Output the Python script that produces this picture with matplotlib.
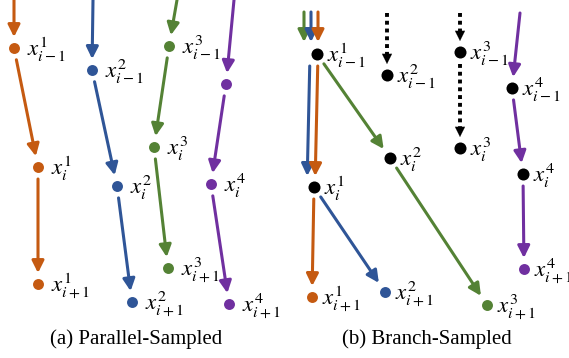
import numpy as np
import matplotlib.pyplot as plt

plt.rcParams['mathtext.fontset'] = 'stix'

ORANGE = '#C55A11'
BLUE = '#2F5597'
GREEN = '#548235'
PURPLE = '#7030A0'
BLACK = '#000000'

# ---- (a) Parallel-Sampled: four independent chains, three steps each
par_colors = [ORANGE, BLUE, GREEN, PURPLE]
par_x = [[14, 38, 38], [92, 117, 132], [169, 154, 168], [226, 211, 229]]
par_y = [[48, 167, 284], [70, 186, 302], [46, 147, 268], [84, 184, 304]]
par_top = [(14, 0), (93, 0), (177, 0), (234, 0)]
par_labels = [[r'$x^{1}_{i-1}$', r'$x^{1}_{i}$', r'$x^{1}_{i+1}$'],
              [r'$x^{2}_{i-1}$', r'$x^{2}_{i}$', r'$x^{2}_{i+1}$'],
              [r'$x^{3}_{i-1}$', r'$x^{3}_{i}$', r'$x^{3}_{i+1}$'],
              ['', r'$x^{4}_{i}$', r'$x^{4}_{i+1}$']]

# ---- (b) Branch-Sampled
br_names = ['a1', 'a2', 'a3', 'a4', 'b1', 'b2', 'b3', 'b4', 'c1', 'c2', 'c3', 'c4']
br_x = [317, 387, 460, 512, 314, 390, 460, 523, 312, 385, 487, 524]
br_y = [54, 75, 52, 88, 187, 158, 148, 174, 297, 292, 305, 269]
br_colors = [BLACK] * 8 + [ORANGE, BLUE, GREEN, PURPLE]
br_labels = [r'$x^{1}_{i-1}$', r'$x^{2}_{i-1}$', r'$x^{3}_{i-1}$', r'$x^{4}_{i-1}$',
             r'$x^{1}_{i}$', r'$x^{2}_{i}$', r'$x^{3}_{i}$', r'$x^{4}_{i}$',
             r'$x^{1}_{i+1}$', r'$x^{2}_{i+1}$', r'$x^{3}_{i+1}$', r'$x^{4}_{i+1}$']
# edges between nodes: (from, to, colour, x offset, dotted)
br_edges = [('a1', 'b1', BLUE, -7, False), ('a1', 'b1', ORANGE, 1, False),
            ('a1', 'b2', GREEN, 0, False), ('b2', 'c3', GREEN, 0, False),
            ('b1', 'c1', ORANGE, 0, False), ('b1', 'c2', BLUE, 0, False),
            ('a3', 'b3', BLACK, 0, True),
            ('a4', 'b4', PURPLE, 0, False), ('b4', 'c4', PURPLE, 0, False)]
# incoming arrows from the top: (start x, start y, node, colour, x offset, dotted)
br_in = [(304, 12, 'a1', GREEN, -13, False), (311, 12, 'a1', BLUE, -6, False),
         (318, 12, 'a1', ORANGE, 1, False), (387, 13, 'a2', BLACK, 0, True),
         (460, 13, 'a3', BLACK, 0, True), (520, 13, 'a4', PURPLE, 0, False)]

captions = ['(a) Parallel-Sampled', '(b) Branch-Sampled']
caption_x = [136, 427]

GAP0 = 12
GAP1 = 11
LW = 2.2


def arrow(ax, p0, p1, color, dotted=False):
    p0 = np.array(p0, float)
    p1 = np.array(p1, float)
    if dotted:
        d = (p1 - p0) / np.linalg.norm(p1 - p0)
        base = p1 - d * 9
        ax.plot([p0[0], base[0]], [p0[1], base[1]], color=color, lw=LW + 0.6,
                linestyle=(0, (1, 1)), solid_capstyle='butt')
        ax.annotate('', xy=p1, xytext=base,
                    arrowprops=dict(arrowstyle='-|>', color=color, lw=0.1,
                                    mutation_scale=18, shrinkA=0, shrinkB=0))
    else:
        ax.annotate('', xy=p1, xytext=p0,
                    arrowprops=dict(arrowstyle='-|>', color=color, lw=LW,
                                    mutation_scale=18, shrinkA=0, shrinkB=0))


def edge(ax, q0, q1, color, dx=0, dotted=False):
    q0 = np.array(q0, float)
    q1 = np.array(q1, float)
    d = (q1 - q0) / np.linalg.norm(q1 - q0)
    s = q0 + d * GAP0
    e = q1 - d * GAP1
    s[0] += dx
    e[0] += dx
    arrow(ax, s, e, color, dotted)


def label(ax, x, y, txt, off=12):
    ax.text(x + off, y + 8, txt, fontsize=16.5, va='baseline', ha='left')


fig = plt.figure(figsize=(5.69, 3.58), dpi=100)
ax = fig.add_axes([0, 0, 1, 1])
ax.set_xlim(0, 569)
ax.set_ylim(358, 0)
ax.axis('off')

# panel (a)
for k in range(4):
    xs, ys, c = par_x[k], par_y[k], par_colors[k]
    d = np.array([xs[0], ys[0]], float) - np.array(par_top[k], float)
    d = d / np.linalg.norm(d)
    arrow(ax, par_top[k], (xs[0] - d[0] * GAP1, ys[0] - d[1] * GAP1), c)
    for j in range(2):
        edge(ax, (xs[j], ys[j]), (xs[j + 1], ys[j + 1]), c)
    ax.scatter(xs, ys, s=62, color=c, zorder=3, linewidths=0)
    for j in range(3):
        if par_labels[k][j]:
            label(ax, xs[j], ys[j], par_labels[k][j], off=13)

# panel (b)
pos = {n: (x, y) for n, x, y in zip(br_names, br_x, br_y)}
for sx, sy, n, c, dx, dot in br_in:
    nx, ny = pos[n]
    if dx != 0:
        arrow(ax, (sx, sy), (sx, ny - GAP1 - 1), c, dot)
    else:
        d = np.array([nx - sx, ny - sy], float)
        d = d / np.linalg.norm(d)
        arrow(ax, (sx, sy), (nx - d[0] * GAP1, ny - d[1] * GAP1), c, dot)
for a, b, c, dx, dot in br_edges:
    edge(ax, pos[a], pos[b], c, dx, dot)
for n, x, y, c, t in zip(br_names, br_x, br_y, br_colors, br_labels):
    ax.scatter([x], [y], s=75 if c == BLACK else 62, color=c, zorder=3, linewidths=0)
    label(ax, x, y, t, off=10)

for t, x in zip(captions, caption_x):
    ax.text(x, 344, t, fontsize=15, family='Liberation Serif', ha='center', va='baseline')

fig.savefig('out.png', dpi=100)
